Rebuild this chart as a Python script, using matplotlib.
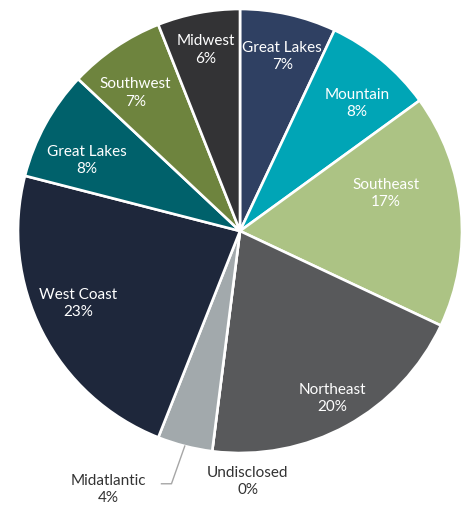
import numpy as np
import matplotlib
matplotlib.use("Agg")
from matplotlib import pyplot as plt

# regions clockwise from 12 o'clock
regions = ["Great Lakes", "Mountain", "Southeast", "Northeast", "Undisclosed",
           "Midatlantic", "West Coast", "Great Lakes", "Southwest", "Midwest"]
shares = [7, 8, 17, 20, 0, 4, 23, 8, 7, 6]
colors = ["#2F4062", "#00A5B6", "#ACC384", "#58595B", "#58595B",
          "#A2A9AC", "#1E273B", "#00616B", "#6E843E", "#333335"]

# label placement (radius in pie units, angle shift in degrees)
lab_r = [0.81, 0.78, 0.68, 0.86, 1.13, 0, 0.80, 0.76, 0.78, 0.83]
lab_dt = [-1, -3, 9, 0, 9, 0, -3, 4, 3, 0]

plt.rcParams['font.family'] = ['Lato', 'DejaVu Sans']

fig = plt.figure(figsize=(4.69, 5.05), dpi=100)
cx, cy, R = 240, 231, 222
ax = fig.add_axes([(cx - R) / 469, (505 - cy - R) / 505, 2 * R / 469, 2 * R / 505])

wedges, _ = ax.pie(shares, colors=colors, startangle=90, counterclock=False, radius=1,
                   wedgeprops=dict(edgecolor="white", linewidth=1.9))
ax.set_xlim(-1, 1)
ax.set_ylim(-1, 1)
ax.set_aspect("equal")
ax.axis("off")

for i, w in enumerate(wedges):
    mid = np.deg2rad((w.theta1 + w.theta2) / 2 + lab_dt[i])
    txt = "%s\n%d%%" % (regions[i], shares[i])
    if regions[i] == "Midatlantic":
        x0, y0 = np.cos(mid), np.sin(mid)
        ax.plot([x0, x0 - 0.06, x0 - 0.105], [y0, y0 - 0.17, y0 - 0.17],
                color="#A6A6A6", lw=1, clip_on=False)
        ax.text(x0 - 0.345, y0 - 0.195, txt, ha="center", va="center", fontsize=11,
                color="#333333", linespacing=1.3, clip_on=False)
        continue
    x, y = lab_r[i] * np.cos(mid), lab_r[i] * np.sin(mid)
    col = "#333333" if shares[i] == 0 else "white"
    ax.text(x, y, txt, ha="center", va="center", fontsize=11, color=col,
            linespacing=1.3, clip_on=False)

plt.savefig("out.png", dpi=100)
